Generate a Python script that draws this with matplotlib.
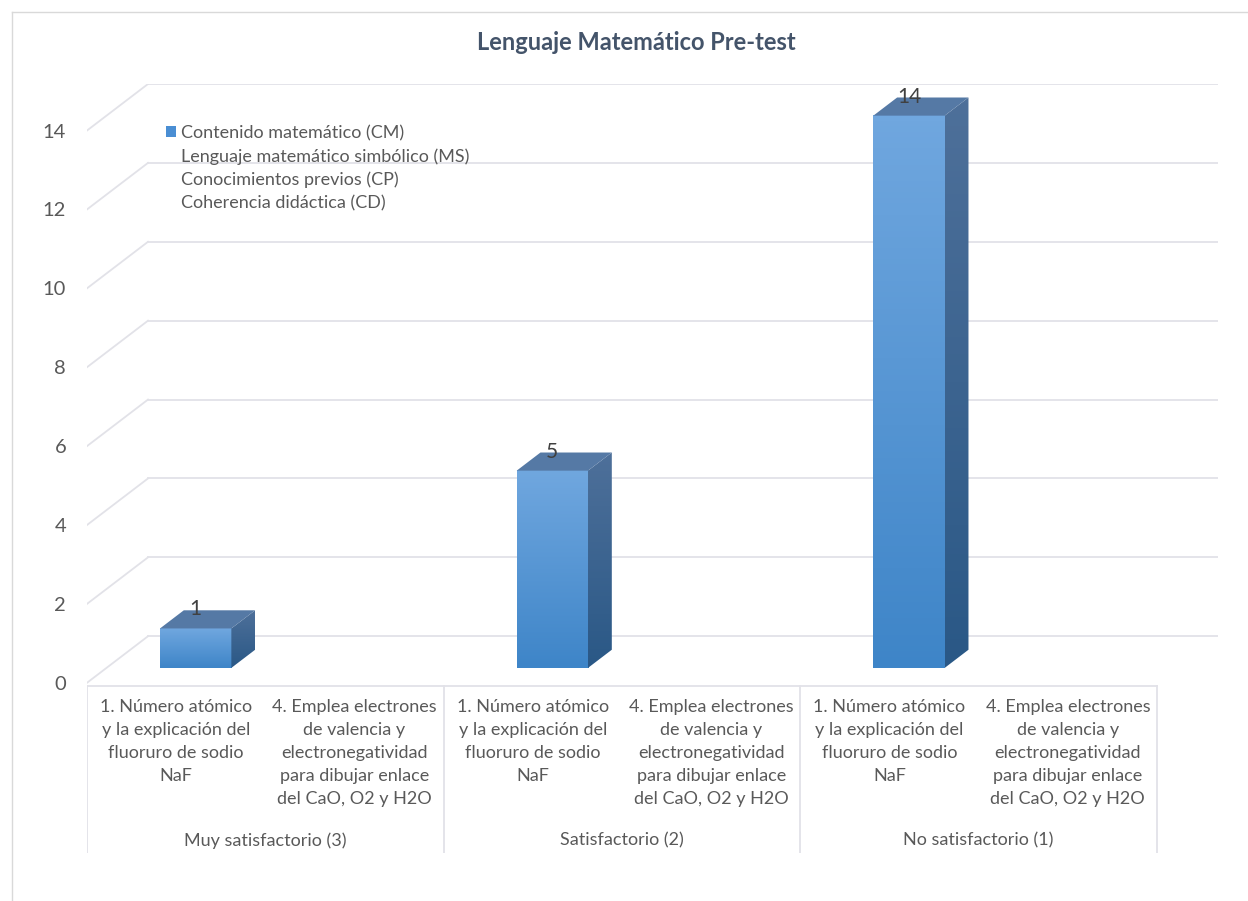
import numpy as np
import matplotlib
matplotlib.use("Agg")
import matplotlib.pyplot as plt
from matplotlib.patches import Polygon, Patch
from matplotlib.lines import Line2D

plt.rcParams['font.family'] = ['Lato', 'DejaVu Sans']

# data
items = ["1. Número atómico\ny la explicación del\nfluoruro de sodio\nNaF",
         "4. Emplea electrones\nde valencia y\nelectronegatividad\npara dibujar enlace\ndel CaO, O2 y H2O"]
groups = ["Muy satisfactorio (3)", "Satisfactorio (2)", "No satisfactorio (1)"]
series = ["Contenido matemático (CM)", "Lenguaje matemático simbólico (MS)",
          "Conocimientos previos (CP)", "Coherencia didáctica (CD)"]
cm = [1, None, 5, None, 14, None]
yticks = [0, 2, 4, 6, 8, 10, 12, 14]
title = "Lenguaje Matemático Pre-test"

W, H = 1248, 901
fig = plt.figure(figsize=(W / 100, H / 100), dpi=100)
ax = fig.add_axes([87 / W, 48 / H, (1218 - 87) / W, 769 / H])

DX, DY = 0.342, 1.18      # depth offset (x units, y units)
zf, zb = 0.32, 0.71       # bar depth range
bw = 0.4
ncat = len(groups) * len(items)
ymin = -4.315
grid_c = '#e2e2e8'
txt_c = '#595959'

# walls / gridlines
for v in yticks:
    ax.plot([-0.5, -0.5 + DX], [v, v + DY], color=grid_c, lw=1.3, zorder=1)
    ax.plot([-0.5 + DX, ncat - 0.5 + DX], [v + DY, v + DY], color=grid_c, lw=1.3, zorder=1)

# category panel
ax.plot([-0.5, ncat - 0.5], [-0.08, -0.08], color=grid_c, lw=1.3, zorder=1)
for g in range(len(groups) + 1):
    xg = -0.5 + g * len(items)
    ax.plot([xg, xg], [-0.08, ymin], color=grid_c, lw=1.3, zorder=1)

front_top = np.array([0x70, 0xa7, 0xdf]) / 255
front_bot = np.array([0x3e, 0x85, 0xc8]) / 255
side_top = np.array([0x4e, 0x70, 0x9a]) / 255
side_bot = np.array([0x2a, 0x58, 0x86]) / 255
top_c = '#5579a5'

def grad(c1, c2, n=100):
    t = np.linspace(0, 1, n)[:, None, None]
    return c1[None, None, :] * (1 - t) + c2[None, None, :] * t

for i, v in enumerate(cm):
    if not v:
        continue
    x0 = i + zf * DX - bw / 2
    x1 = x0 + bw
    y0 = zf * DY
    y1 = v + zf * DY
    ddx = (zb - zf) * DX
    ddy = (zb - zf) * DY
    ax.imshow(grad(front_top, front_bot), extent=(x0, x1, y0, y1), aspect='auto', zorder=3)
    side = Polygon([(x1, y0), (x1 + ddx, y0 + ddy), (x1 + ddx, y1 + ddy), (x1, y1)],
                   closed=True, fc='none', ec='none', transform=ax.transData)
    ax.add_patch(side)
    im = ax.imshow(grad(side_top, side_bot), extent=(x1, x1 + ddx, y0, y1 + ddy),
                   aspect='auto', zorder=3)
    im.set_clip_path(side)
    ax.add_patch(Polygon([(x0, y1), (x1, y1), (x1 + ddx, y1 + ddy), (x0 + ddx, y1 + ddy)],
                         closed=True, fc=top_c, ec='none', zorder=3))
    ax.text((x0 + x1) / 2, v + 0.86, str(v), ha='center', va='center',
            fontsize=15, color='#404040', zorder=4)

# category labels
pxu = 39.45
for g, gname in enumerate(groups):
    for k, lab in enumerate(items):
        xc = g * len(items) + k
        for j, line in enumerate(lab.split('\n')):
            ax.text(xc, -(24 + 23 * j) / pxu, line, ha='center', va='center',
                    fontsize=13, color=txt_c)
    ax.text(g * len(items) + 0.5, -158 / pxu, gname, ha='center', va='center',
            fontsize=13, color=txt_c)

ax.set_xlim(-0.5, ncat - 0.5 + DX)
ax.set_ylim(ymin, 14 + DY)
ax.set_yticks(yticks)
ax.set_yticklabels([str(t) for t in yticks], fontsize=14.5, color=txt_c)
ax.tick_params(axis='y', length=0, pad=15)
ax.set_xticks([])
for s in ax.spines.values():
    s.set_visible(False)

handles = [Patch(fc='#4a8ed3', ec='none')] + [Patch(fc='none', ec='none') for _ in series[1:]]
fig.legend(handles, series, loc='upper left', bbox_to_anchor=(157 / W, 1 - 116 / H),
           frameon=False, fontsize=13, handlelength=0.55, handleheight=0.55,
           handletextpad=0.3, labelspacing=0.39, borderpad=0, labelcolor=txt_c)

fig.text(636 / W, 1 - 43 / H, title, ha='center', va='center', fontsize=17,
         fontweight='bold', color='#44546a')

# chart area border
fig.add_artist(Line2D([12 / W, 1], [1 - 12 / H, 1 - 12 / H], color='#d9d9d9', lw=1))
fig.add_artist(Line2D([12 / W, 12 / W], [0, 1 - 12 / H], color='#d9d9d9', lw=1))

fig.savefig('out.png', dpi=100)
